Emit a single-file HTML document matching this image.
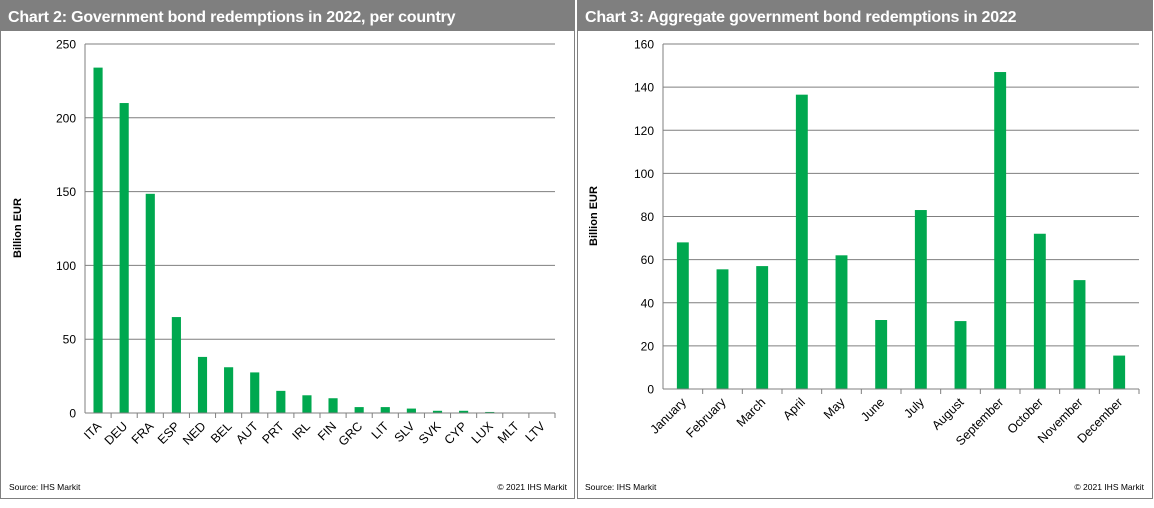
<!DOCTYPE html>
<html><head><meta charset="utf-8"><style>
body{margin:0;background:#fff;width:1154px;height:503px;overflow:hidden;font-family:"Liberation Sans",Arial,sans-serif}
svg text{font-family:"Liberation Sans",Arial,sans-serif}
</style></head><body>
<svg id="s" width="1154" height="503" xmlns="http://www.w3.org/2000/svg">
<g>
<rect x="0.5" y="0.5" width="574" height="498" fill="#fff" stroke="#808080"/>
<rect x="0" y="0" width="575" height="31" fill="#7f7f7f"/>
<text x="8" y="22" fill="#fff" font-size="16" font-weight="bold" letter-spacing="-0.2">Chart 2: Government bond redemptions in 2022, per country</text>
<text x="0" y="0" transform="translate(21,228) rotate(-90)" text-anchor="middle" font-size="11" font-weight="bold">Billion EUR</text>
<text x="9" y="490" font-size="8.5">Source:  IHS Markit</text>
<text x="567" y="490" font-size="8.5" text-anchor="end">© 2021  IHS Markit</text>
</g>
<g>
<rect x="577.5" y="0.5" width="575" height="498" fill="#fff" stroke="#808080"/>
<rect x="577" y="0" width="576" height="31" fill="#7f7f7f"/>
<text x="585" y="22" fill="#fff" font-size="16" font-weight="bold" letter-spacing="-0.2">Chart 3: Aggregate government bond redemptions in 2022</text>
<text x="0" y="0" transform="translate(597,216) rotate(-90)" text-anchor="middle" font-size="11" font-weight="bold">Billion EUR</text>
<text x="585" y="490" font-size="8.5">Source:  IHS Markit</text>
<text x="1144" y="490" font-size="8.5" text-anchor="end">© 2021  IHS Markit</text>
</g>
<g id="c2"></g><g id="c3"></g>
</svg>
<script>
const countries=["ITA","DEU","FRA","ESP","NED","BEL","AUT","PRT","IRL","FIN","GRC","LIT","SLV","SVK","CYP","LUX","MLT","LTV"];
const countryValues=[234,210,148.5,65,38,31,27.5,15,12,10,4,4,3,1.5,1.5,0.7,0,0];
const countryTicks=[0,50,100,150,200,250];
const months=["January","February","March","April","May","June","July","August","September","October","November","December"];
const monthValues=[68,55.5,57,136.5,62,32,83,31.5,147,72,50.5,15.5];
const monthTicks=[0,20,40,60,80,100,120,140,160];
const NS="http://www.w3.org/2000/svg";
function mk(p,t,a){const e=document.createElementNS(NS,t);for(const k in a)e.setAttribute(k,a[k]);p.appendChild(e);return e;}
function draw(g,cats,vals,ticks,o){
  const yMax=ticks[ticks.length-1];
  const y=v=>o.y0-(v/yMax)*(o.y0-o.y1);
  const step=(o.x1-o.x0)/cats.length;
  const x=i=>o.x0+step*(i+0.5);
  ticks.forEach(t=>{
    if(t>0){const l=mk(g,'line',{x1:o.x0,x2:o.x1,y1:y(t),y2:y(t),stroke:'#7f7f7f','stroke-width':1});
    
    }
    const tx=mk(g,'text',{x:o.x0-9,y:y(t)+4.5,'text-anchor':'end','font-size':12});
    tx.textContent=t;
    
    
  });
  const ya=mk(g,'line',{x1:o.x0,x2:o.x0,y1:o.y1,y2:o.y0,stroke:'#7f7f7f'});
  
  
  cats.forEach((c,i)=>{
    const bw=step*o.bw;
    const r=mk(g,'rect',{x:x(i)-bw/2,y:y(vals[i]),width:bw,height:o.y0-y(vals[i]),fill:'#00a84f'});
    
    
    const tk=mk(g,'line',{x1:o.x0+step*(i+1),x2:o.x0+step*(i+1),y1:o.y0,y2:o.y0+5,stroke:'#7f7f7f'});
    
    
    const t=mk(g,'text',{'text-anchor':'end','font-size':12.5,transform:`translate(${x(i)+4},${o.y0+14}) rotate(-45)`});
    t.textContent=c;
    
    
  });
  const xa=mk(g,'line',{x1:o.x0,x2:o.x1,y1:o.y0,y2:o.y0,stroke:'#7f7f7f'});
  
  
}
draw(document.getElementById('c2'),countries,countryValues,countryTicks,{x0:85,x1:555,y0:413,y1:44,bw:0.35});
draw(document.getElementById('c3'),months,monthValues,monthTicks,{x0:663,x1:1139,y0:389,y1:44,bw:0.3});
</script>
</body></html>
